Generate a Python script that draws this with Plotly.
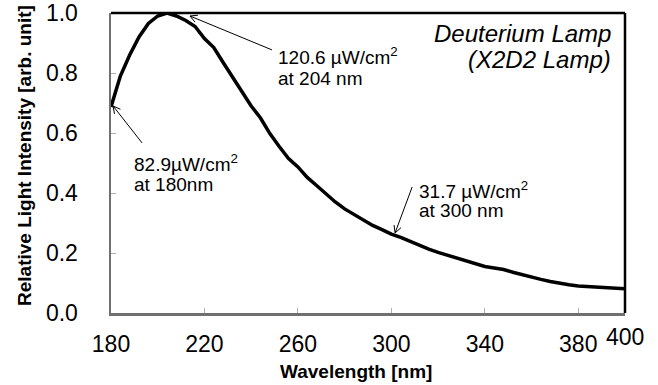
import math
import plotly.graph_objects as go

# ---- data ----
wavelength = [180, 184, 188, 192, 196, 200, 204, 208, 212, 216, 220, 224, 228, 232, 236,
              240, 244, 248, 252, 256, 260, 264, 268, 272, 276, 280, 284, 288, 292, 296,
              300, 304, 308, 312, 316, 320, 324, 328, 332, 336, 340, 344, 348, 352, 356,
              360, 364, 368, 372, 376, 380, 384, 388, 392, 396, 400]
intensity = [0.687, 0.790, 0.860, 0.920, 0.965, 0.990, 1.000, 0.990, 0.975, 0.955, 0.915,
             0.885, 0.835, 0.785, 0.740, 0.690, 0.650, 0.598, 0.555, 0.515, 0.487, 0.452,
             0.425, 0.398, 0.370, 0.347, 0.328, 0.312, 0.292, 0.278, 0.263, 0.252, 0.238,
             0.225, 0.213, 0.202, 0.192, 0.182, 0.172, 0.162, 0.155, 0.150, 0.145, 0.136,
             0.127, 0.120, 0.112, 0.105, 0.099, 0.094, 0.090, 0.088, 0.086, 0.085, 0.083,
             0.081]
x_ticks = [180, 220, 260, 300, 340, 380]
x_last_tick = 400
y_ticks = [0.0, 0.2, 0.4, 0.6, 0.8, 1.0]
y_tick_labels = ["0.0", "0.2", "0.4", "0.6", "0.8", "1.0"]
x_title = "Wavelength [nm]"
y_title = "Relative Light Intensity [arb. unit]"
lamp_lines = ["Deuterium Lamp", "(X2D2 Lamp)"]
callout_labels = [
    ["120.6 µW/cm<sup>2</sup>", "at 204 nm"],
    ["82.9µW/cm<sup>2</sup>", "at 180nm"],
    ["31.7 µW/cm<sup>2</sup>", "at 300 nm"],
]
arrow_heads = [(213.8, 0.99), (180.9, 0.69), (301.6, 0.267)]   # (nm, value)
arrow_tails = [(248.9, 0.877), (193.3, 0.567), (308.9, 0.42)]  # (nm, value)

# ---- layout geometry (pixels) ----
W, H = 658, 385
L, R, T, B = 111, 625, 13, 313
XMIN, XMAX = 180, 400
SX = (R - L) / (XMAX - XMIN)
SY = (B - T) / 1.0
FONT = "Liberation Sans, Arial, sans-serif"

callout_pos = [(276, [56, 78]), (132, [163, 185]), (417, [190, 211])]


def px_to_paper(px, py):
    return (px - L) / (R - L), (B - py) / (B - T)


fig = go.Figure()
fig.add_trace(go.Scatter(x=wavelength, y=intensity, mode="lines",
                         line=dict(color="black", width=3.5), hoverinfo="skip",
                         showlegend=False))

annotations = []
shapes = [
    dict(type="line", xref="paper", yref="paper", x0=0, x1=1, y0=1, y1=1,
         line=dict(color="black", width=2.5)),
    dict(type="line", xref="paper", yref="paper", x0=1, x1=1, y0=0, y1=1,
         line=dict(color="black", width=2.5)),
]

for head, tail in zip(arrow_heads, arrow_tails):
    shapes.append(dict(type="line", xref="x", yref="y", x0=tail[0], y0=tail[1],
                       x1=head[0], y1=head[1], line=dict(color="black", width=1)))
    # open V arrowhead, built in pixel space then mapped back to data units
    dxp = (tail[0] - head[0]) * SX
    dyp = -(tail[1] - head[1]) * SY
    ang = math.atan2(dyp, dxp)
    for s in (-1, 1):
        a = ang + s * math.radians(28)
        wx = head[0] + 8 * math.cos(a) / SX
        wy = head[1] - 8 * math.sin(a) / SY
        shapes.append(dict(type="line", xref="x", yref="y", x0=head[0], y0=head[1],
                           x1=wx, y1=wy, line=dict(color="black", width=1)))

for lines, (lx, ys) in zip(callout_labels, callout_pos):
    for line, yy in zip(lines, ys):
        px, py = px_to_paper(lx, yy)
        annotations.append(dict(x=px, y=py, xref="paper", yref="paper", text=line,
                                showarrow=False, xanchor="left", yanchor="middle",
                                font=dict(size=19, color="black", family=FONT)))

for line, yy in zip(lamp_lines, [34, 60]):
    px, py = px_to_paper(613, yy)
    annotations.append(dict(x=px, y=py, xref="paper", yref="paper",
                            text="<i>" + line + "</i>", showarrow=False,
                            xanchor="right", yanchor="middle",
                            font=dict(size=24, color="black", family=FONT)))

# raised last x tick label
px, py = px_to_paper(624, 337)
annotations.append(dict(x=x_last_tick, y=py, xref="x", yref="paper", text=str(x_last_tick),
                        showarrow=False, xanchor="center", yanchor="middle",
                        font=dict(size=23, color="black", family=FONT)))
# axis titles
px, py = px_to_paper(356, 371)
annotations.append(dict(x=px, y=py, xref="paper", yref="paper", text="<b>" + x_title + "</b>",
                        showarrow=False, xanchor="center", yanchor="middle",
                        font=dict(size=19, color="black", family=FONT)))
px, py = px_to_paper(24, 156)
annotations.append(dict(x=px, y=py, xref="paper", yref="paper", text="<b>" + y_title + "</b>",
                        showarrow=False, xanchor="center", yanchor="middle", textangle=-90,
                        font=dict(size=19, color="black", family=FONT)))

fig.update_layout(
    template="none",
    width=W, height=H,
    margin=dict(l=L, r=W - R, t=T, b=H - B, pad=0),
    paper_bgcolor="white", plot_bgcolor="white",
    font=dict(family=FONT, color="black"),
    annotations=annotations,
    shapes=shapes,
    showlegend=False,
    xaxis=dict(range=[XMIN, XMAX], tickmode="array", tickvals=x_ticks,
               ticktext=[str(v) for v in x_ticks], ticks="inside", ticklen=5,
               tickwidth=1, tickcolor="#b0b0b0", showline=True, linecolor="#707070",
               linewidth=2.5, showgrid=False, zeroline=False, automargin=False,
               ticklabeloverflow="allow",
               tickfont=dict(size=23, color="black", family=FONT), ticklabelstandoff=9),
    yaxis=dict(range=[0, 1], tickmode="array", tickvals=y_ticks, ticktext=y_tick_labels,
               ticks="inside", ticklen=5, tickwidth=1, tickcolor="#b0b0b0",
               showline=True, linecolor="#707070", linewidth=2.5, showgrid=False,
               zeroline=False, automargin=False, ticklabeloverflow="allow",
               tickfont=dict(size=23, color="black", family=FONT), ticklabelstandoff=26),
)

fig.write_html("out.html", config={"displayModeBar": False, "staticPlot": True},
               post_script="document.body.style.margin='0';")
